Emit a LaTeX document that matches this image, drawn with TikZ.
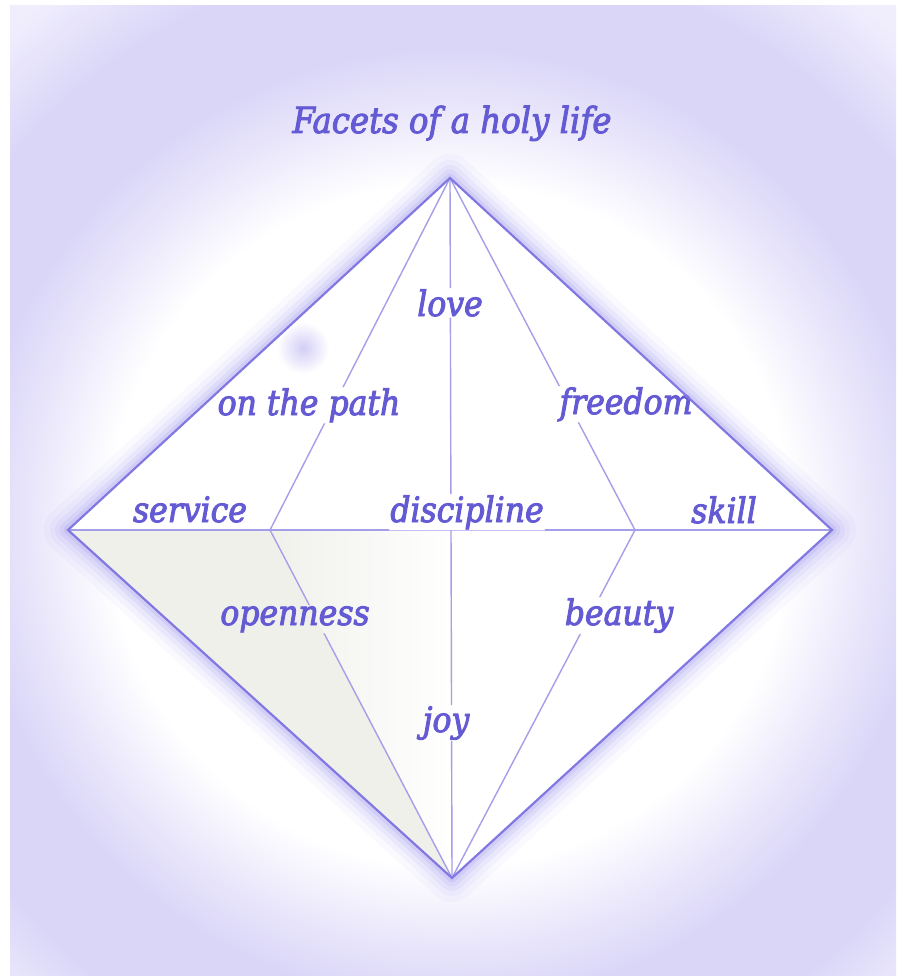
\documentclass[tikz,border=0pt]{standalone}
\usepackage{fontspec}
\newfontfamily\facetfont{DejaVuSerifCondensed-Italic}[Extension=.ttf, FakeBold=2.6]
\definecolor{txt}{RGB}{100,90,212}
\definecolor{edgec}{RGB}{130,120,225}
\definecolor{linec}{RGB}{165,158,232}
\definecolor{glowc}{RGB}{120,105,235}
\definecolor{halo1}{RGB}{234,231,251}
\definecolor{halo2}{RGB}{218,214,248}
\definecolor{halo3}{RGB}{240,238,253}
\definecolor{facetg}{RGB}{240,240,235}
\definecolor{spotc}{RGB}{210,205,246}
\pgfdeclareradialshading{halo}{\pgfpoint{0bp}{0bp}}{color(0bp)=(white); color(340bp)=(white); color(415bp)=(halo1); color(475bp)=(halo2); color(570bp)=(halo2); color(660bp)=(halo3); color(720bp)=(halo3)}
\begin{document}
\begin{tikzpicture}[x=1pt,y=-1pt,
  lbl/.style={font=\facetfont\fontsize{35}{40}\selectfont, text=txt, inner sep=1pt, anchor=base},
  ttl/.style={lbl, font=\facetfont\fontsize{36}{40}\selectfont},
  outeredge/.style={draw=edgec, line width=2.2pt, line join=miter},
  facetline/.style={draw=linec, line width=1.4pt},
  hole/.style={insert path={(#1.north west)--(#1.south west)--(#1.south east)--(#1.north east)--cycle}}]
\useasboundingbox (0,0) rectangle (896,976);
\fill[white] (0,0) rectangle (896,976);
\begin{scope}
  \clip (10,6) rectangle (896,976);
  \node[inner sep=0pt, outer sep=0pt] (haloimg) at (450,525) {\pgfuseshading{halo}};
\end{scope}
% vertices
\coordinate (T) at (450,178);
\coordinate (B) at (452,878);
\coordinate (L) at (68,530);
\coordinate (R) at (832,530);
\coordinate (IL) at (270,530);
\coordinate (IR) at (635,530);
\coordinate (C) at (452,530);
% glow around the diamond
\foreach \w/\o in {48/0.04, 36/0.05, 26/0.07, 17/0.09, 9/0.12}
  \draw[glowc, line width=\w pt, opacity=\o, line join=round] (T)--(R)--(B)--(L)--cycle;
\fill[white] (T)--(R)--(B)--(L)--cycle;
% shaded facet
\fill[facetg] (L)--(IL)--(B)--cycle;
\shade[left color=facetg, right color=white] (IL)--(C)--(B)--cycle;
\shade[inner color=spotc, outer color=white] (303,348) circle (26);
% labels
\node[ttl] (title) at (452,133) {Facets of a holy life};
\node[lbl] (love) at (450,316) {love};
\node[lbl] (path) at (309,415) {on the path};
\node[lbl] (freedom) at (626,414) {freedom};
\node[lbl] (service) at (190,522) {service};
\node[lbl] (discipline) at (467,522) {discipline};
\node[lbl] (skill) at (724,523) {skill};
\node[lbl] (openness) at (295,625) {openness};
\node[lbl] (beauty) at (619,625) {beauty};
\node[lbl] (joy) at (446,732) {joy};
% inner lines, interrupted by the labels
\begin{scope}
  \clip (0,0)--(896,0)--(896,976)--(0,976)--cycle
    [hole=love] [hole=path] [hole=freedom] [hole=discipline]
    [hole=openness] [hole=beauty] [hole=joy];
  \draw[facetline] (T)--(IL)--(B);
  \draw[facetline] (T)--(IR)--(B);
  \draw[facetline] (L)--(R);
  \draw[facetline] (T)--(B);
\end{scope}
\draw[outeredge] (T)--(R)--(B)--(L)--cycle;
\end{tikzpicture}
\end{document}
